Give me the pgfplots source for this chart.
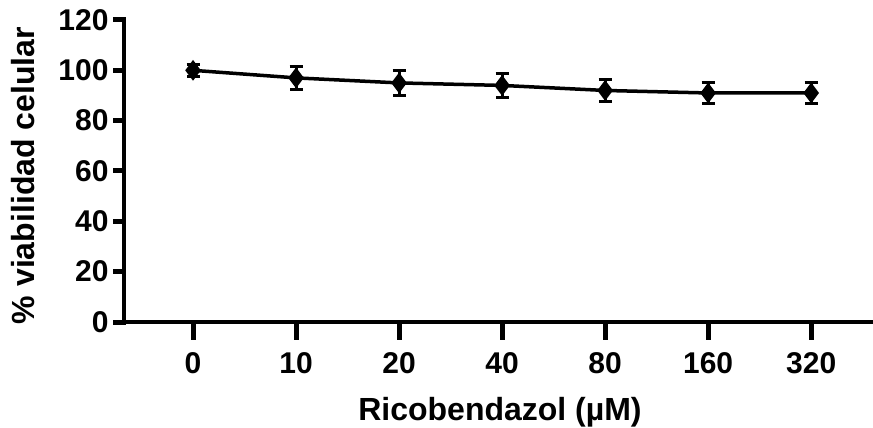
\documentclass[border=0pt]{standalone}
\usepackage{fontspec}
\setmainfont{Liberation Sans}
\usepackage{pgfplots}
\pgfplotsset{compat=1.18}
\begin{document}
\begin{tikzpicture}
\begin{axis}[
  scale only axis, width=749bp, height=302bp,
  xmin=-0.67, xmax=6.6, ymin=0, ymax=120,
  axis x line*=bottom, axis y line*=left,
  axis line style={line width=4bp, black},
  xtick={0,...,6}, xticklabels={0,10,20,40,80,160,320},
  ytick={0,20,...,120},
  tick align=outside,
  x tick style={line width=5bp, black, line cap=rect, /pgfplots/major tick length=15bp},
  y tick style={line width=5bp, black, line cap=rect, /pgfplots/major tick length=8bp},
  /pgf/number format/assume math mode=true,
  ticklabel style={font=\fontsize{30bp}{31bp}\selectfont\bfseries, inner sep=0pt},
  xticklabel style={anchor=north, yshift=-26bp},
  yticklabel style={anchor=east, xshift=-11bp},
  xlabel={Ricobendazol (µM)}, ylabel={\% viabilidad celular},
  label style={font=\fontsize{32bp}{33bp}\selectfont\bfseries},
  xlabel style={at={(axis description cs:0.502,-0.30)}, anchor=center},
  ylabel style={at={(axis description cs:-0.135,0.485)}, anchor=center},
  clip=false,
]
\addplot[black, line width=3.5bp, mark=diamond*, mark size=7.5bp,
  error bars/.cd, y dir=both, y explicit,
  error bar style={line width=3bp, black},
  error mark options={rotate=90, mark size=6.5bp, line width=3bp, black}]
  table[x=x, y=y, y error=e] {
  x y e
  0 100 2.5
  1 97 4.7
  2 95 5.0
  3 94 4.6
  4 92 4.5
  5 91 4.2
  6 91 4.2
};
\end{axis}
\pgfresetboundingbox
\path (-124bp,-106bp) rectangle (749bp,322bp);
\end{tikzpicture}
\end{document}
